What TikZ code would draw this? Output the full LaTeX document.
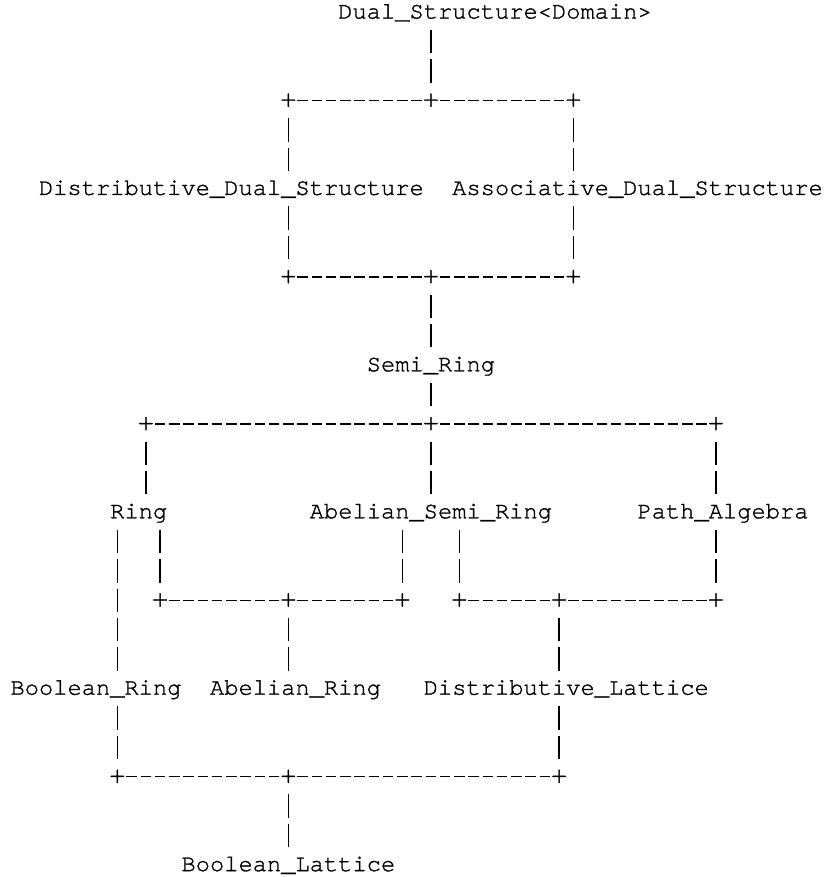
\documentclass[tikz,border=0pt]{standalone}
\usepackage{fontspec}
\newfontfamily\asciifont[FakeBold=1.2]{TeX Gyre Cursor}

\tikzset{
  lbl/.style ={inner sep=0pt, outer sep=0pt, anchor=base west,
               text height=23.9pt, text depth=11.4pt,
               font=\asciifont\fontsize{23.75pt}{29.4pt}\selectfont},
  plus/.style={inner sep=0pt, outer sep=0pt, anchor=base, minimum width=18.2pt,
               text height=23.9pt, text depth=11.4pt,
               font=\asciifont\fontsize{26pt}{29.4pt}\selectfont},
  vbar/.style={line width=1.4pt, dash pattern=on 23.5pt off 5.9pt},
  hbar/.style={line width=1.4pt, dash pattern=on 10.3pt off 3.95pt},
}

\begin{document}
\begin{tikzpicture}[x=14.25pt, y=-29.4pt]
\useasboundingbox (-1.2368,-0.6293) rectangle (56.868,29.2007);

  % names, one column = one character
  \node[lbl] (dual)      at (22.5, 0) {Dual\_Structure<Domain>};
  \node[lbl] (distdual)  at ( 1.5, 6) {Distributive\_Dual\_Structure};
  \node[lbl] (assocdual) at (30.5, 6) {Associative\_Dual\_Structure};
  \node[lbl] (semiring)  at (24.5,12) {Semi\_Ring};
  \node[lbl] (ring)      at ( 6.5,17) {Ring};
  \node[lbl] (abelsemi)  at (20.5,17) {Abelian\_Semi\_Ring};
  \node[lbl] (pathalg)   at (43.5,17) {Path\_Algebra};
  \node[lbl] (boolring)  at (-0.5,23) {Boolean\_Ring};
  \node[lbl] (abelring)  at (13.5,23) {Abelian\_Ring};
  \node[lbl] (distlat)   at (28.5,23) {Distributive\_Lattice};
  \node[lbl] (boollat)   at (11.5,29) {Boolean\_Lattice};

  % the + corners
  \node[plus] (p3l)  at (19, 3) {+};
  \node[plus] (p3m)  at (29, 3) {+};
  \node[plus] (p3r)  at (39, 3) {+};
  \node[plus] (p9l)  at (19, 9) {+};
  \node[plus] (p9m)  at (29, 9) {+};
  \node[plus] (p9r)  at (39, 9) {+};
  \node[plus] (p14l) at ( 9,14) {+};
  \node[plus] (p14m) at (29,14) {+};
  \node[plus] (p14r) at (49,14) {+};
  \node[plus] (p20a) at (10,20) {+};
  \node[plus] (p20b) at (19,20) {+};
  \node[plus] (p20c) at (27,20) {+};
  \node[plus] (p20d) at (31,20) {+};
  \node[plus] (p20e) at (38,20) {+};
  \node[plus] (p20f) at (49,20) {+};
  \node[plus] (p26a) at ( 7,26) {+};
  \node[plus] (p26b) at (19,26) {+};
  \node[plus] (p26c) at (38,26) {+};

  % ---- rows
  \draw[hbar] (p3l)  -- (p3m);
  \draw[hbar] (p3m)  -- (p3r);
  \draw[hbar] (p9l)  -- (p9m);
  \draw[hbar] (p9m)  -- (p9r);
  \draw[hbar] (p14l) -- (p14m);
  \draw[hbar] (p14m) -- (p14r);
  \draw[hbar] (p20a) -- (p20b);
  \draw[hbar] (p20b) -- (p20c);
  \draw[hbar] (p20d) -- (p20e);
  \draw[hbar] (p20e) -- (p20f);
  \draw[hbar] (p26a) -- (p26b);
  \draw[hbar] (p26b) -- (p26c);

  % | columns
  \draw[vbar] (dual.south -| p3m)      -- (p3m.north);
  \draw[vbar] (p3l.south)              -- (p3l |- distdual.north);
  \draw[vbar] (p3r.south)              -- (p3r |- assocdual.north);
  \draw[vbar] (distdual.south -| p9l)  -- (p9l.north);
  \draw[vbar] (assocdual.south -| p9r) -- (p9r.north);
  \draw[vbar] (p9m.south)              -- (p9m |- semiring.north);
  \draw[vbar] (semiring.south -| p14m) -- (p14m.north);
  \draw[vbar] (p14l.south)             -- (p14l |- ring.north);
  \draw[vbar] (p14m.south)             -- (p14m |- abelsemi.north);
  \draw[vbar] (p14r.south)             -- (p14r |- pathalg.north);
  \draw[vbar] (ring.south -| p26a)     -- (boolring.north -| p26a);
  \draw[vbar] (ring.south -| p20a)     -- (p20a.north);
  \draw[vbar] (abelsemi.south -| p20c) -- (p20c.north);
  \draw[vbar] (abelsemi.south -| p20d) -- (p20d.north);
  \draw[vbar] (pathalg.south -| p20f)  -- (p20f.north);
  \draw[vbar] (p20b.south)             -- (p20b |- abelring.north);
  \draw[vbar] (p20e.south)             -- (p20e |- distlat.north);
  \draw[vbar] (boolring.south -| p26a) -- (p26a.north);
  \draw[vbar] (distlat.south -| p26c)  -- (p26c.north);
  \draw[vbar] (p26b.south)             -- (p26b |- boollat.north);

\end{tikzpicture}
\end{document}
